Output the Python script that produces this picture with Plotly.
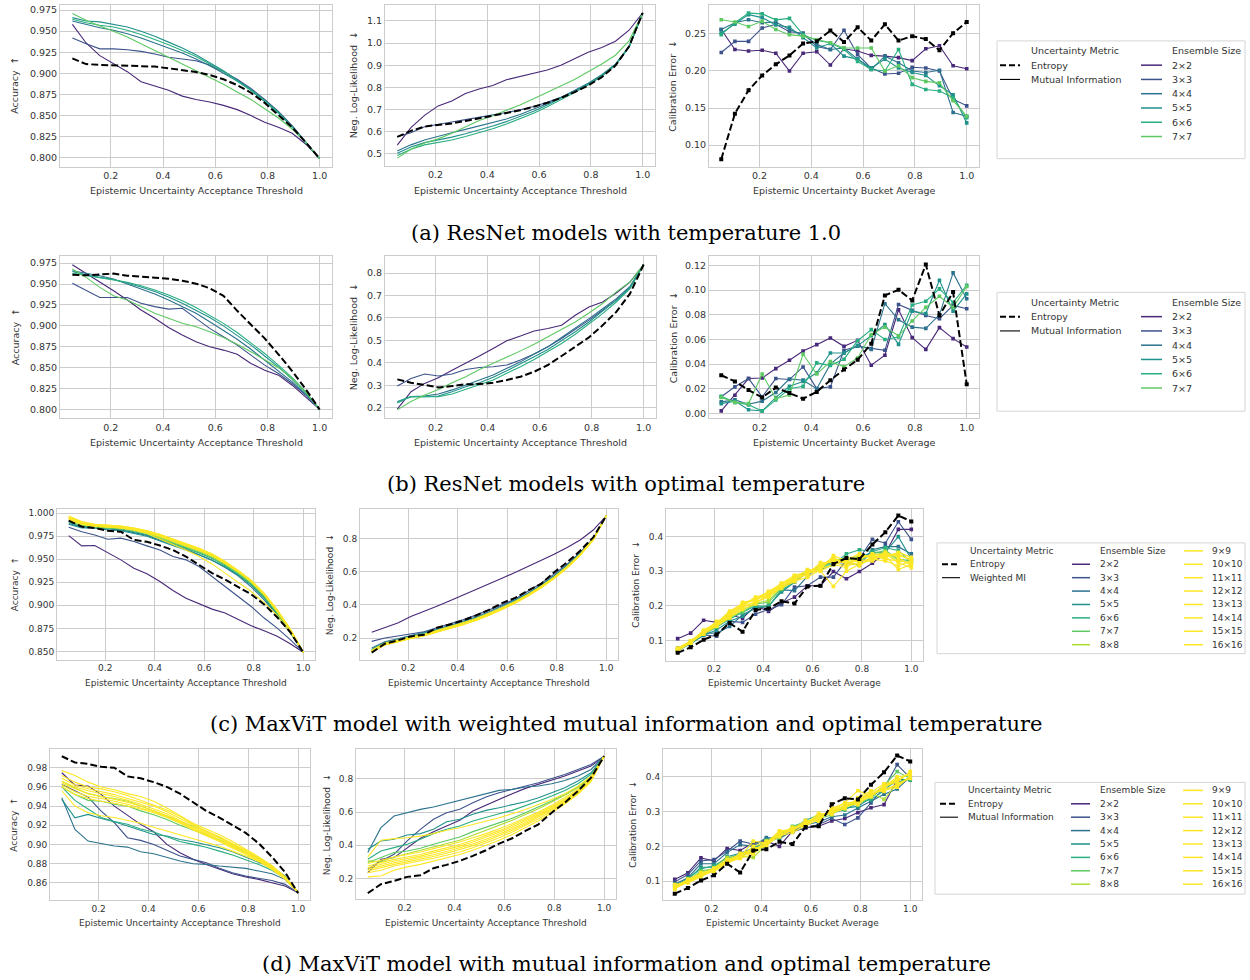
import plotly.graph_objects as go

W, H = 1250, 980

# ---------------- data ----------------
X = [0.0526, 0.1053, 0.1579, 0.2105, 0.2632, 0.3158, 0.3684, 0.4211, 0.4737, 0.5263,
     0.5789, 0.6316, 0.6842, 0.7368, 0.7895, 0.8421, 0.8947, 0.9474, 1.0]

SIZES_RESNET = ["2×2", "3×3", "4×4", "5×5", "6×6", "7×7"]
SIZES_MAXVIT = ["2×2", "3×3", "4×4", "5×5", "6×6", "7×7", "8×8", "9×9", "10×10",
                "11×11", "12×12", "13×13", "14×14", "15×15", "16×16"]
SIZE_COLORS = ["#482878", "#3b528b", "#2c728e", "#21918c", "#28ae80", "#5ec962", "#addc30",
               "#fde725", "#fde725", "#fde725", "#fde725", "#fde725", "#fde725", "#fde725", "#fde725"]

CAPTIONS = ["(a) ResNet models with temperature 1.0",
            "(b) ResNet models with optimal temperature",
            "(c) MaxViT model with weighted mutual information and optimal temperature",
            "(d) MaxViT model with mutual information and optimal temperature"]

# (a) ResNet, temperature 1.0
RN_T1_ACC_ENT = [0.9177, 0.911, 0.910, 0.9095, 0.909, 0.909, 0.908, 0.906, 0.904, 0.9015, 0.898, 0.893, 0.886, 0.877, 0.865, 0.851, 0.836, 0.818, 0.799]
RN_T1_ACC_MI = [
    [0.958, 0.936, 0.921, 0.911, 0.902, 0.890, 0.885, 0.880, 0.873, 0.869, 0.866, 0.862, 0.857, 0.850, 0.842, 0.836, 0.829, 0.816, 0.799],
    [0.942, 0.935, 0.929, 0.929, 0.928, 0.926, 0.923, 0.919, 0.917, 0.915, 0.910, 0.902, 0.893, 0.882, 0.869, 0.855, 0.838, 0.819, 0.799],
    [0.962, 0.958, 0.954, 0.951, 0.947, 0.942, 0.936, 0.930, 0.924, 0.917, 0.909, 0.900, 0.891, 0.880, 0.867, 0.853, 0.837, 0.818, 0.799],
    [0.966, 0.962, 0.961, 0.958, 0.955, 0.950, 0.944, 0.937, 0.930, 0.922, 0.913, 0.903, 0.892, 0.881, 0.868, 0.854, 0.837, 0.818, 0.799],
    [0.964, 0.960, 0.957, 0.955, 0.951, 0.946, 0.940, 0.934, 0.927, 0.920, 0.911, 0.902, 0.891, 0.880, 0.867, 0.853, 0.836, 0.818, 0.799],
    [0.971, 0.963, 0.956, 0.950, 0.943, 0.935, 0.927, 0.919, 0.911, 0.903, 0.895, 0.887, 0.878, 0.869, 0.858, 0.847, 0.834, 0.818, 0.799],
]
RN_T1_NLL_ENT = [0.576, 0.603, 0.623, 0.630, 0.637, 0.648, 0.660, 0.670, 0.682, 0.696, 0.712, 0.730, 0.752, 0.778, 0.808, 0.846, 0.898, 0.985, 1.136]
RN_T1_NLL_MI = [
    [0.539, 0.618, 0.673, 0.716, 0.738, 0.772, 0.792, 0.808, 0.834, 0.848, 0.862, 0.878, 0.900, 0.930, 0.958, 0.980, 1.008, 1.058, 1.136],
    [0.577, 0.595, 0.622, 0.634, 0.643, 0.654, 0.664, 0.674, 0.686, 0.698, 0.713, 0.732, 0.755, 0.782, 0.812, 0.850, 0.900, 0.982, 1.136],
    [0.512, 0.540, 0.562, 0.580, 0.595, 0.610, 0.625, 0.640, 0.657, 0.677, 0.700, 0.726, 0.754, 0.785, 0.818, 0.857, 0.905, 0.985, 1.136],
    [0.502, 0.530, 0.550, 0.562, 0.575, 0.590, 0.607, 0.625, 0.645, 0.667, 0.692, 0.720, 0.750, 0.782, 0.816, 0.855, 0.903, 0.983, 1.136],
    [0.492, 0.520, 0.540, 0.550, 0.562, 0.578, 0.595, 0.613, 0.634, 0.657, 0.683, 0.712, 0.743, 0.776, 0.811, 0.851, 0.900, 0.981, 1.136],
    [0.480, 0.520, 0.548, 0.567, 0.592, 0.622, 0.650, 0.672, 0.695, 0.720, 0.748, 0.777, 0.805, 0.835, 0.870, 0.905, 0.945, 1.010, 1.136],
]
RN_T1_CAL_ENT = [0.081, 0.1425, 0.174, 0.194, 0.209, 0.221, 0.237, 0.240, 0.2545, 0.239, 0.259, 0.241, 0.263, 0.241, 0.247, 0.243, 0.228, 0.251, 0.266]
RN_T1_CAL_MI = [
    [0.256, 0.229, 0.227, 0.228, 0.224, 0.200, 0.224, 0.226, 0.208, 0.230, 0.227, 0.221, 0.220, 0.218, 0.214, 0.230, 0.234, 0.207, 0.203],
    [0.225, 0.240, 0.240, 0.258, 0.263, 0.253, 0.251, 0.233, 0.229, 0.255, 0.222, 0.204, 0.196, 0.197, 0.205, 0.204, 0.200, 0.162, 0.153],
    [0.256, 0.265, 0.269, 0.265, 0.266, 0.256, 0.249, 0.236, 0.229, 0.231, 0.216, 0.202, 0.220, 0.211, 0.200, 0.198, 0.201, 0.144, 0.139],
    [0.251, 0.263, 0.276, 0.272, 0.262, 0.259, 0.245, 0.231, 0.237, 0.220, 0.216, 0.204, 0.216, 0.204, 0.198, 0.194, 0.180, 0.168, 0.130],
    [0.249, 0.265, 0.278, 0.277, 0.269, 0.271, 0.249, 0.241, 0.238, 0.229, 0.213, 0.202, 0.200, 0.229, 0.182, 0.175, 0.173, 0.164, 0.137],
    [0.269, 0.266, 0.260, 0.267, 0.256, 0.249, 0.247, 0.242, 0.238, 0.231, 0.231, 0.231, 0.200, 0.207, 0.191, 0.186, 0.184, 0.160, 0.139],
]

# (b) ResNet, optimal temperature
RN_OPT_ACC_ENT = [0.961, 0.9605, 0.9615, 0.9625, 0.960, 0.959, 0.958, 0.9565, 0.954, 0.9505, 0.945, 0.936, 0.918, 0.902, 0.885, 0.866, 0.846, 0.824, 0.800]
RN_OPT_ACC_MI = [
    [0.973, 0.963, 0.952, 0.942, 0.931, 0.919, 0.909, 0.898, 0.889, 0.881, 0.875, 0.871, 0.866, 0.855, 0.847, 0.841, 0.829, 0.815, 0.800],
    [0.951, 0.942, 0.934, 0.934, 0.934, 0.927, 0.923, 0.920, 0.921, 0.909, 0.897, 0.887, 0.877, 0.865, 0.853, 0.843, 0.831, 0.817, 0.800],
    [0.966, 0.963, 0.960, 0.956, 0.950, 0.944, 0.938, 0.931, 0.923, 0.915, 0.905, 0.895, 0.884, 0.872, 0.859, 0.847, 0.833, 0.818, 0.800],
    [0.965, 0.961, 0.958, 0.9555, 0.951, 0.9465, 0.941, 0.9345, 0.927, 0.919, 0.910, 0.900, 0.889, 0.877, 0.864, 0.851, 0.836, 0.8195, 0.800],
    [0.963, 0.960, 0.9575, 0.955, 0.952, 0.948, 0.943, 0.937, 0.930, 0.922, 0.913, 0.903, 0.892, 0.880, 0.867, 0.853, 0.838, 0.821, 0.800],
    [0.968, 0.958, 0.946, 0.936, 0.931, 0.923, 0.915, 0.909, 0.903, 0.899, 0.893, 0.886, 0.878, 0.869, 0.859, 0.850, 0.837, 0.820, 0.800],
]
RN_OPT_NLL_ENT = [0.326, 0.311, 0.301, 0.290, 0.296, 0.304, 0.305, 0.311, 0.323, 0.338, 0.360, 0.390, 0.430, 0.471, 0.513, 0.567, 0.627, 0.708, 0.838]
RN_OPT_NLL_MI = [
    [0.193, 0.271, 0.308, 0.333, 0.367, 0.397, 0.430, 0.464, 0.498, 0.519, 0.542, 0.553, 0.567, 0.612, 0.649, 0.671, 0.711, 0.760, 0.838],
    [0.296, 0.330, 0.350, 0.341, 0.350, 0.370, 0.379, 0.382, 0.390, 0.412, 0.439, 0.471, 0.508, 0.548, 0.590, 0.634, 0.679, 0.735, 0.838],
    [0.222, 0.249, 0.252, 0.261, 0.279, 0.301, 0.320, 0.345, 0.375, 0.404, 0.439, 0.471, 0.513, 0.553, 0.597, 0.641, 0.686, 0.741, 0.838],
    [0.227, 0.249, 0.249, 0.252, 0.271, 0.293, 0.311, 0.335, 0.364, 0.394, 0.427, 0.459, 0.498, 0.538, 0.582, 0.631, 0.679, 0.735, 0.838],
    [0.222, 0.249, 0.249, 0.249, 0.261, 0.281, 0.301, 0.323, 0.353, 0.382, 0.415, 0.449, 0.486, 0.527, 0.572, 0.619, 0.671, 0.730, 0.838],
    [0.190, 0.227, 0.256, 0.281, 0.311, 0.338, 0.370, 0.397, 0.427, 0.453, 0.483, 0.516, 0.548, 0.582, 0.622, 0.664, 0.716, 0.760, 0.838],
]
RN_OPT_CAL_ENT = [0.031, 0.026, 0.019, 0.013, 0.021, 0.0165, 0.012, 0.0175, 0.027, 0.0356, 0.0435, 0.0566, 0.0957, 0.1003, 0.0917, 0.1208, 0.0795, 0.0984, 0.0237]
RN_OPT_CAL_MI = [
    [0.0021, 0.0148, 0.0283, 0.0288, 0.0364, 0.0431, 0.0507, 0.0558, 0.0612, 0.0545, 0.0593, 0.0391, 0.0472, 0.0841, 0.0615, 0.0520, 0.0696, 0.0607, 0.0539],
    [0.0135, 0.0216, 0.0283, 0.0135, 0.0283, 0.0275, 0.0377, 0.0202, 0.0216, 0.0512, 0.0545, 0.0526, 0.0512, 0.0884, 0.0836, 0.0795, 0.0768, 0.0876, 0.0849],
    [0.0094, 0.011, 0.0075, 0.010, 0.017, 0.028, 0.027, 0.020, 0.040, 0.049, 0.055, 0.052, 0.089, 0.076, 0.070, 0.069, 0.080, 0.114, 0.093],
    [0.008, 0.010, 0.003, 0.002, 0.013, 0.022, 0.026, 0.033, 0.049, 0.049, 0.055, 0.063, 0.072, 0.056, 0.083, 0.081, 0.108, 0.083, 0.097],
    [0.014, 0.009, 0.007, 0.002, 0.011, 0.020, 0.022, 0.041, 0.039, 0.044, 0.059, 0.068, 0.060, 0.062, 0.088, 0.091, 0.101, 0.090, 0.104],
    [0.013, 0.009, 0.008, 0.032, 0.012, 0.015, 0.048, 0.032, 0.042, 0.038, 0.045, 0.064, 0.070, 0.063, 0.075, 0.086, 0.095, 0.086, 0.103],
]

# MaxViT entropy baselines (shared by (c) and (d))
MV_ACC_ENT = [0.992, 0.9855, 0.984, 0.981, 0.980, 0.971, 0.969, 0.965, 0.960, 0.953, 0.944, 0.935, 0.928, 0.920, 0.912, 0.901, 0.887, 0.871, 0.849]
MV_NLL_ENT = [0.112, 0.166, 0.186, 0.210, 0.220, 0.262, 0.282, 0.306, 0.336, 0.370, 0.410, 0.442, 0.486, 0.526, 0.596, 0.656, 0.726, 0.806, 0.936]
MV_CAL_ENT = [0.064, 0.080, 0.102, 0.117, 0.150, 0.125, 0.188, 0.192, 0.213, 0.207, 0.256, 0.258, 0.321, 0.338, 0.335, 0.377, 0.413, 0.461, 0.444]

# (c) MaxViT, weighted MI
MV_WMI_ACC = [
    [0.9758, 0.9646, 0.965, 0.9574, 0.9494, 0.9404, 0.9342, 0.9259, 0.9162, 0.9078, 0.9017, 0.8959, 0.8916, 0.8843, 0.8778, 0.8724, 0.8663, 0.8583, 0.849],
    [0.9848, 0.980, 0.9765, 0.9718, 0.973, 0.9693, 0.9646, 0.9602, 0.953, 0.9494, 0.9422, 0.9313, 0.9212, 0.9096, 0.8988, 0.8862, 0.8753, 0.8627, 0.849],
    [0.989, 0.985, 0.984, 0.983, 0.982, 0.979, 0.976, 0.971, 0.966, 0.961, 0.955, 0.949, 0.941, 0.932, 0.920, 0.906, 0.889, 0.870, 0.849],
    [0.988, 0.984, 0.984, 0.982, 0.981, 0.978, 0.975, 0.970, 0.965, 0.960, 0.955, 0.949, 0.942, 0.933, 0.922, 0.908, 0.890, 0.871, 0.849],
    [0.990, 0.986, 0.985, 0.984, 0.983, 0.980, 0.977, 0.972, 0.967, 0.962, 0.957, 0.951, 0.943, 0.934, 0.923, 0.909, 0.891, 0.871, 0.849],
    [0.991, 0.987, 0.985, 0.984, 0.983, 0.981, 0.978, 0.973, 0.968, 0.963, 0.958, 0.952, 0.944, 0.935, 0.924, 0.910, 0.892, 0.872, 0.849],
    [0.992, 0.988, 0.986, 0.985, 0.984, 0.982, 0.979, 0.974, 0.969, 0.964, 0.959, 0.953, 0.945, 0.936, 0.925, 0.911, 0.893, 0.873, 0.849],
    [0.993, 0.988, 0.986, 0.985, 0.984, 0.982, 0.979, 0.975, 0.970, 0.965, 0.960, 0.954, 0.946, 0.937, 0.926, 0.912, 0.894, 0.874, 0.849],
    [0.994, 0.989, 0.987, 0.986, 0.985, 0.983, 0.980, 0.975, 0.970, 0.965, 0.960, 0.954, 0.946, 0.937, 0.926, 0.912, 0.894, 0.873, 0.849],
    [0.994, 0.988, 0.986, 0.985, 0.984, 0.982, 0.978, 0.972, 0.966, 0.960, 0.953, 0.945, 0.935, 0.925, 0.915, 0.903, 0.889, 0.871, 0.849],
    [0.995, 0.990, 0.987, 0.986, 0.985, 0.983, 0.980, 0.976, 0.971, 0.966, 0.961, 0.955, 0.947, 0.938, 0.927, 0.913, 0.895, 0.874, 0.849],
    [0.996, 0.990, 0.988, 0.987, 0.986, 0.984, 0.981, 0.977, 0.972, 0.967, 0.962, 0.955, 0.947, 0.938, 0.927, 0.913, 0.895, 0.874, 0.849],
    [0.995, 0.989, 0.987, 0.986, 0.985, 0.983, 0.980, 0.976, 0.971, 0.966, 0.961, 0.955, 0.947, 0.937, 0.926, 0.912, 0.894, 0.873, 0.849],
    [0.996, 0.990, 0.987, 0.986, 0.985, 0.983, 0.981, 0.977, 0.972, 0.967, 0.961, 0.955, 0.946, 0.937, 0.926, 0.912, 0.894, 0.874, 0.849],
    [0.997, 0.991, 0.988, 0.987, 0.986, 0.984, 0.981, 0.977, 0.972, 0.967, 0.962, 0.956, 0.948, 0.938, 0.927, 0.913, 0.895, 0.874, 0.849],
]
MV_WMI_NLL = [
    [0.235, 0.262, 0.290, 0.330, 0.360, 0.392, 0.425, 0.458, 0.490, 0.525, 0.560, 0.595, 0.630, 0.667, 0.705, 0.745, 0.790, 0.850, 0.936],
    [0.180, 0.200, 0.212, 0.225, 0.238, 0.262, 0.285, 0.310, 0.338, 0.368, 0.400, 0.435, 0.480, 0.530, 0.585, 0.645, 0.715, 0.800, 0.936],
    [0.140, 0.178, 0.196, 0.215, 0.232, 0.255, 0.277, 0.300, 0.327, 0.358, 0.392, 0.430, 0.472, 0.520, 0.575, 0.638, 0.710, 0.798, 0.936],
    [0.132, 0.172, 0.190, 0.210, 0.226, 0.249, 0.270, 0.293, 0.320, 0.351, 0.385, 0.424, 0.467, 0.515, 0.571, 0.634, 0.707, 0.796, 0.936],
    [0.128, 0.170, 0.188, 0.208, 0.223, 0.246, 0.267, 0.290, 0.317, 0.348, 0.382, 0.421, 0.464, 0.513, 0.569, 0.633, 0.706, 0.795, 0.936],
    [0.125, 0.168, 0.186, 0.206, 0.221, 0.244, 0.265, 0.288, 0.315, 0.346, 0.380, 0.419, 0.462, 0.511, 0.567, 0.631, 0.705, 0.795, 0.936],
    [0.124, 0.166, 0.185, 0.205, 0.220, 0.243, 0.264, 0.287, 0.314, 0.345, 0.379, 0.418, 0.461, 0.510, 0.566, 0.630, 0.704, 0.794, 0.936],
    [0.122, 0.165, 0.184, 0.204, 0.219, 0.242, 0.263, 0.286, 0.313, 0.344, 0.378, 0.417, 0.460, 0.509, 0.565, 0.629, 0.703, 0.794, 0.936],
    [0.121, 0.163, 0.183, 0.203, 0.218, 0.241, 0.262, 0.285, 0.312, 0.343, 0.377, 0.416, 0.459, 0.508, 0.564, 0.628, 0.703, 0.793, 0.936],
    [0.126, 0.168, 0.187, 0.206, 0.222, 0.246, 0.268, 0.290, 0.318, 0.349, 0.382, 0.420, 0.462, 0.510, 0.565, 0.628, 0.702, 0.793, 0.936],
    [0.119, 0.162, 0.181, 0.201, 0.216, 0.239, 0.260, 0.283, 0.310, 0.341, 0.375, 0.414, 0.457, 0.506, 0.562, 0.626, 0.701, 0.792, 0.936],
    [0.118, 0.160, 0.180, 0.199, 0.215, 0.237, 0.259, 0.281, 0.309, 0.340, 0.374, 0.412, 0.456, 0.505, 0.561, 0.625, 0.700, 0.792, 0.936],
    [0.116, 0.160, 0.179, 0.199, 0.213, 0.237, 0.257, 0.281, 0.307, 0.339, 0.372, 0.412, 0.454, 0.504, 0.560, 0.624, 0.700, 0.791, 0.936],
    [0.117, 0.158, 0.178, 0.198, 0.214, 0.236, 0.258, 0.280, 0.308, 0.338, 0.373, 0.411, 0.455, 0.503, 0.559, 0.623, 0.699, 0.791, 0.936],
    [0.115, 0.158, 0.177, 0.197, 0.212, 0.235, 0.256, 0.279, 0.306, 0.337, 0.371, 0.410, 0.453, 0.502, 0.558, 0.622, 0.698, 0.790, 0.936],
]
MV_WMI_CAL = [
    [0.105, 0.121, 0.158, 0.152, 0.174, 0.164, 0.200, 0.184, 0.208, 0.225, 0.258, 0.258, 0.299, 0.278, 0.299, 0.323, 0.352, 0.421, 0.421],
    [0.078, 0.094, 0.116, 0.112, 0.155, 0.152, 0.176, 0.1885, 0.203, 0.254, 0.258, 0.283, 0.283, 0.333, 0.3375, 0.392, 0.381, 0.443, 0.392],
    [0.073, 0.097, 0.121, 0.121, 0.140, 0.174, 0.193, 0.198, 0.246, 0.244, 0.285, 0.318, 0.326, 0.323, 0.318, 0.362, 0.371, 0.371, 0.350],
    [0.071, 0.090, 0.115, 0.130, 0.155, 0.170, 0.195, 0.200, 0.240, 0.268, 0.300, 0.305, 0.318, 0.335, 0.340, 0.355, 0.355, 0.400, 0.335],
    [0.070, 0.092, 0.118, 0.138, 0.162, 0.180, 0.200, 0.198, 0.245, 0.270, 0.295, 0.315, 0.320, 0.350, 0.362, 0.357, 0.368, 0.360, 0.325],
    [0.068, 0.095, 0.122, 0.140, 0.168, 0.182, 0.205, 0.210, 0.250, 0.275, 0.300, 0.305, 0.330, 0.340, 0.330, 0.350, 0.360, 0.335, 0.330],
    [0.072, 0.098, 0.125, 0.145, 0.165, 0.188, 0.208, 0.215, 0.255, 0.280, 0.298, 0.312, 0.335, 0.330, 0.345, 0.345, 0.355, 0.330, 0.325],
    [0.075, 0.095, 0.130, 0.150, 0.185, 0.205, 0.220, 0.230, 0.262, 0.285, 0.300, 0.310, 0.335, 0.325, 0.340, 0.345, 0.350, 0.345, 0.335],
    [0.078, 0.098, 0.125, 0.155, 0.170, 0.210, 0.215, 0.240, 0.265, 0.280, 0.290, 0.315, 0.340, 0.320, 0.335, 0.350, 0.345, 0.305, 0.320],
    [0.072, 0.092, 0.120, 0.140, 0.165, 0.190, 0.205, 0.235, 0.255, 0.275, 0.305, 0.300, 0.256, 0.300, 0.320, 0.335, 0.330, 0.315, 0.330],
    [0.070, 0.094, 0.125, 0.148, 0.178, 0.200, 0.222, 0.232, 0.250, 0.270, 0.295, 0.300, 0.320, 0.310, 0.345, 0.340, 0.340, 0.355, 0.340],
    [0.076, 0.097, 0.118, 0.145, 0.168, 0.195, 0.210, 0.225, 0.255, 0.285, 0.290, 0.325, 0.325, 0.315, 0.325, 0.330, 0.350, 0.325, 0.310],
    [0.073, 0.096, 0.122, 0.152, 0.180, 0.208, 0.218, 0.242, 0.260, 0.272, 0.282, 0.305, 0.345, 0.330, 0.315, 0.345, 0.335, 0.330, 0.325],
    [0.074, 0.093, 0.128, 0.142, 0.172, 0.198, 0.212, 0.228, 0.265, 0.288, 0.298, 0.318, 0.330, 0.325, 0.330, 0.335, 0.355, 0.340, 0.315],
    [0.071, 0.099, 0.123, 0.146, 0.175, 0.203, 0.225, 0.238, 0.258, 0.278, 0.293, 0.308, 0.318, 0.335, 0.350, 0.338, 0.345, 0.350, 0.330],
]

# (d) MaxViT, mutual information
MV_MI_ACC = [
    [0.9748, 0.9619, 0.9609, 0.9522, 0.940, 0.9306, 0.9209, 0.9132, 0.900, 0.8913, 0.8844, 0.8791, 0.8739, 0.8694, 0.8659, 0.8635, 0.860, 0.8565, 0.8496],
    [0.9626, 0.9557, 0.9494, 0.9348, 0.9226, 0.907, 0.9042, 0.900, 0.8937, 0.8878, 0.8844, 0.8809, 0.875, 0.8704, 0.8669, 0.8645, 0.8624, 0.8583, 0.8496],
    [0.9487, 0.9157, 0.9035, 0.9007, 0.8983, 0.8972, 0.8924, 0.8903, 0.8861, 0.8826, 0.8798, 0.8791, 0.8774, 0.8764, 0.875, 0.8722, 0.8694, 0.8635, 0.8496],
    [0.947, 0.9278, 0.9313, 0.9271, 0.9237, 0.9191, 0.9146, 0.9104, 0.9087, 0.9052, 0.9028, 0.900, 0.8965, 0.8924, 0.8868, 0.8819, 0.8757, 0.867, 0.8496],
    [0.960, 0.946, 0.937, 0.928, 0.924, 0.921, 0.916, 0.913, 0.908, 0.903, 0.900, 0.897, 0.893, 0.889, 0.884, 0.879, 0.873, 0.865, 0.8496],
    [0.960, 0.952, 0.946, 0.945, 0.942, 0.940, 0.935, 0.931, 0.926, 0.920, 0.915, 0.910, 0.905, 0.898, 0.892, 0.885, 0.877, 0.866, 0.8496],
    [0.966, 0.959, 0.953, 0.950, 0.948, 0.945, 0.940, 0.935, 0.930, 0.924, 0.919, 0.914, 0.907, 0.900, 0.893, 0.886, 0.877, 0.866, 0.8496],
    [0.977, 0.972, 0.965, 0.960, 0.957, 0.953, 0.950, 0.945, 0.938, 0.930, 0.922, 0.916, 0.910, 0.903, 0.895, 0.887, 0.878, 0.866, 0.8496],
    [0.972, 0.965, 0.960, 0.958, 0.955, 0.951, 0.946, 0.941, 0.936, 0.929, 0.921, 0.914, 0.908, 0.901, 0.894, 0.886, 0.877, 0.866, 0.8496],
    [0.969, 0.962, 0.958, 0.955, 0.952, 0.948, 0.944, 0.940, 0.934, 0.927, 0.920, 0.913, 0.907, 0.900, 0.893, 0.885, 0.876, 0.865, 0.8496],
    [0.966, 0.960, 0.956, 0.953, 0.950, 0.946, 0.942, 0.937, 0.932, 0.925, 0.918, 0.912, 0.905, 0.899, 0.892, 0.884, 0.876, 0.865, 0.8496],
    [0.964, 0.958, 0.953, 0.950, 0.947, 0.944, 0.940, 0.935, 0.930, 0.924, 0.917, 0.911, 0.904, 0.898, 0.891, 0.884, 0.875, 0.865, 0.8496],
    [0.962, 0.955, 0.950, 0.948, 0.945, 0.942, 0.938, 0.934, 0.929, 0.923, 0.916, 0.910, 0.904, 0.897, 0.890, 0.883, 0.875, 0.864, 0.8496],
    [0.960, 0.952, 0.948, 0.945, 0.943, 0.940, 0.937, 0.933, 0.928, 0.922, 0.915, 0.909, 0.903, 0.896, 0.890, 0.883, 0.874, 0.864, 0.8496],
    [0.956, 0.940, 0.933, 0.930, 0.928, 0.925, 0.922, 0.918, 0.914, 0.910, 0.906, 0.902, 0.898, 0.893, 0.888, 0.882, 0.874, 0.864, 0.8496],
]
MV_MI_NLL = [
    [0.236, 0.316, 0.326, 0.386, 0.442, 0.482, 0.516, 0.550, 0.606, 0.642, 0.676, 0.710, 0.742, 0.766, 0.790, 0.816, 0.846, 0.876, 0.936],
    [0.256, 0.306, 0.346, 0.426, 0.496, 0.556, 0.596, 0.616, 0.656, 0.690, 0.716, 0.736, 0.756, 0.776, 0.802, 0.826, 0.856, 0.886, 0.936],
    [0.356, 0.506, 0.576, 0.596, 0.616, 0.630, 0.650, 0.666, 0.686, 0.710, 0.730, 0.736, 0.750, 0.756, 0.770, 0.790, 0.816, 0.856, 0.936],
    [0.376, 0.426, 0.436, 0.462, 0.470, 0.496, 0.542, 0.556, 0.586, 0.610, 0.626, 0.642, 0.662, 0.686, 0.716, 0.746, 0.786, 0.836, 0.936],
    [0.316, 0.366, 0.386, 0.406, 0.436, 0.470, 0.496, 0.516, 0.546, 0.570, 0.590, 0.610, 0.636, 0.666, 0.696, 0.730, 0.770, 0.826, 0.936],
    [0.296, 0.326, 0.356, 0.366, 0.382, 0.406, 0.426, 0.450, 0.482, 0.510, 0.536, 0.562, 0.596, 0.630, 0.666, 0.706, 0.750, 0.810, 0.936],
    [0.306, 0.300, 0.330, 0.350, 0.370, 0.390, 0.410, 0.430, 0.460, 0.490, 0.520, 0.550, 0.585, 0.620, 0.660, 0.700, 0.745, 0.805, 0.936],
    [0.330, 0.430, 0.440, 0.445, 0.455, 0.470, 0.490, 0.505, 0.525, 0.545, 0.565, 0.590, 0.615, 0.645, 0.675, 0.710, 0.755, 0.815, 0.936],
    [0.290, 0.310, 0.330, 0.345, 0.360, 0.380, 0.400, 0.420, 0.445, 0.470, 0.500, 0.530, 0.565, 0.600, 0.640, 0.685, 0.735, 0.800, 0.936],
    [0.275, 0.295, 0.315, 0.330, 0.345, 0.365, 0.385, 0.405, 0.430, 0.458, 0.488, 0.520, 0.555, 0.592, 0.633, 0.678, 0.730, 0.797, 0.936],
    [0.265, 0.285, 0.305, 0.320, 0.335, 0.355, 0.375, 0.395, 0.420, 0.448, 0.478, 0.510, 0.546, 0.585, 0.627, 0.673, 0.726, 0.795, 0.936],
    [0.255, 0.275, 0.295, 0.310, 0.325, 0.343, 0.362, 0.383, 0.408, 0.436, 0.466, 0.500, 0.537, 0.577, 0.620, 0.668, 0.722, 0.792, 0.936],
    [0.245, 0.265, 0.285, 0.300, 0.315, 0.333, 0.352, 0.373, 0.398, 0.426, 0.457, 0.491, 0.528, 0.569, 0.613, 0.662, 0.718, 0.790, 0.936],
    [0.235, 0.250, 0.275, 0.290, 0.305, 0.322, 0.340, 0.360, 0.385, 0.413, 0.445, 0.480, 0.518, 0.560, 0.606, 0.656, 0.713, 0.787, 0.936],
    [0.210, 0.215, 0.250, 0.270, 0.285, 0.305, 0.325, 0.345, 0.370, 0.398, 0.430, 0.465, 0.505, 0.548, 0.596, 0.648, 0.707, 0.784, 0.936],
]
MV_MI_CAL = [
    [0.105, 0.124, 0.167, 0.158, 0.194, 0.188, 0.210, 0.215, 0.200, 0.244, 0.253, 0.258, 0.273, 0.280, 0.297, 0.311, 0.320, 0.392, 0.392],
    [0.098, 0.119, 0.158, 0.162, 0.186, 0.215, 0.207, 0.220, 0.227, 0.242, 0.253, 0.263, 0.280, 0.263, 0.282, 0.325, 0.368, 0.435, 0.397],
    [0.091, 0.110, 0.150, 0.150, 0.182, 0.205, 0.200, 0.225, 0.222, 0.245, 0.262, 0.270, 0.285, 0.290, 0.310, 0.330, 0.350, 0.365, 0.400],
    [0.088, 0.105, 0.140, 0.140, 0.170, 0.180, 0.195, 0.215, 0.230, 0.255, 0.265, 0.285, 0.300, 0.310, 0.315, 0.340, 0.370, 0.385, 0.395],
    [0.085, 0.108, 0.135, 0.145, 0.165, 0.178, 0.190, 0.218, 0.235, 0.250, 0.275, 0.290, 0.295, 0.305, 0.325, 0.335, 0.360, 0.395, 0.390],
    [0.090, 0.100, 0.130, 0.135, 0.160, 0.175, 0.185, 0.210, 0.225, 0.258, 0.270, 0.280, 0.290, 0.320, 0.320, 0.345, 0.375, 0.415, 0.395],
    [0.082, 0.102, 0.125, 0.138, 0.168, 0.172, 0.168, 0.205, 0.238, 0.252, 0.268, 0.282, 0.298, 0.310, 0.330, 0.355, 0.335, 0.380, 0.398],
    [0.080, 0.098, 0.115, 0.130, 0.158, 0.170, 0.215, 0.210, 0.245, 0.248, 0.262, 0.290, 0.300, 0.325, 0.360, 0.345, 0.370, 0.400, 0.405],
    [0.085, 0.104, 0.120, 0.128, 0.155, 0.165, 0.200, 0.212, 0.235, 0.245, 0.270, 0.280, 0.305, 0.315, 0.335, 0.355, 0.380, 0.390, 0.410],
    [0.078, 0.100, 0.118, 0.135, 0.150, 0.168, 0.190, 0.205, 0.228, 0.250, 0.265, 0.295, 0.292, 0.318, 0.330, 0.350, 0.365, 0.375, 0.400],
    [0.090, 0.095, 0.112, 0.132, 0.162, 0.172, 0.182, 0.215, 0.230, 0.240, 0.258, 0.278, 0.302, 0.312, 0.325, 0.345, 0.372, 0.385, 0.415],
    [0.076, 0.106, 0.122, 0.128, 0.152, 0.176, 0.195, 0.200, 0.240, 0.252, 0.262, 0.285, 0.295, 0.308, 0.340, 0.360, 0.358, 0.380, 0.395],
    [0.082, 0.096, 0.116, 0.138, 0.160, 0.165, 0.178, 0.208, 0.232, 0.248, 0.275, 0.272, 0.310, 0.322, 0.320, 0.348, 0.368, 0.392, 0.408],
    [0.087, 0.102, 0.125, 0.130, 0.155, 0.180, 0.188, 0.212, 0.236, 0.255, 0.260, 0.288, 0.298, 0.315, 0.332, 0.352, 0.362, 0.370, 0.402],
    [0.079, 0.099, 0.119, 0.134, 0.158, 0.170, 0.186, 0.203, 0.242, 0.246, 0.268, 0.282, 0.306, 0.325, 0.328, 0.342, 0.376, 0.388, 0.412],
]

# ---------------- layout / style ----------------
GRID = "#cccccc"
TXT = "#333333"
FONT = "DejaVu Sans"
XLAB_T = "Epistemic Uncertainty Acceptance Threshold"
XLAB_B = "Epistemic Uncertainty Bucket Average"
UP, DOWN = "\u00a0\u00a0↑", "\u00a0\u00a0↓"

# boxes are in window pixels (left, top, right, bottom)
PANELS = [
    # row a
    dict(box=(60, 4, 332, 166), yr=(0.7894, 0.981), dt=0.025, fmt=".3f", yl="Accuracy" + UP, xl=XLAB_T, ylx=15, xly=190,
         mi=RN_T1_ACC_MI, ent=RN_T1_ACC_ENT, n=6, mk=False, fs=9.5),
    dict(box=(385, 4, 655, 165), yr=(0.446, 1.172), dt=0.1, fmt=".1f", yl="Neg. Log-Likelihood" + DOWN, xl=XLAB_T, ylx=353, xly=190,
         mi=RN_T1_NLL_MI, ent=RN_T1_NLL_ENT, n=6, mk=False, fs=9.5),
    dict(box=(709, 4, 979, 166), yr=(0.071, 0.289), dt=0.05, fmt=".2f", yl="Calibration Error" + DOWN, xl=XLAB_B, ylx=673, xly=190,
         mi=RN_T1_CAL_MI, ent=RN_T1_CAL_ENT, n=6, mk=True, fs=9.5),
    # row b
    dict(box=(60, 256, 332, 418), yr=(0.7896, 0.983), dt=0.025, fmt=".3f", yl="Accuracy" + UP, xl=XLAB_T, ylx=15, xly=442,
         mi=RN_OPT_ACC_MI, ent=RN_OPT_ACC_ENT, n=6, mk=False, fs=9.5),
    dict(box=(385, 256, 656, 418), yr=(0.153, 0.874), dt=0.1, fmt=".1f", yl="Neg. Log-Likelihood" + DOWN, xl=XLAB_T, ylx=353, xly=442,
         mi=RN_OPT_NLL_MI, ent=RN_OPT_NLL_ENT, n=6, mk=False, fs=9.5),
    dict(box=(709, 256, 979, 418), yr=(-0.0038, 0.1273), dt=0.02, fmt=".2f", yl="Calibration Error" + DOWN, xl=XLAB_B, ylx=673, xly=442,
         mi=RN_OPT_CAL_MI, ent=RN_OPT_CAL_ENT, n=6, mk=True, fs=9.5),
    # row c
    dict(box=(57, 509, 315, 660), yr=(0.841, 1.0047), dt=0.025, fmt=".3f", yl="Accuracy" + UP, xl=XLAB_T, ylx=15, xly=683,
         mi=MV_WMI_ACC, ent=MV_ACC_ENT, n=15, mk=False, fs=9),
    dict(box=(360, 509, 618, 660), yr=(0.07, 0.977), dt=0.2, fmt=".1f", yl="Neg. Log-Likelihood" + DOWN, xl=XLAB_T, ylx=330, xly=683,
         mi=MV_WMI_NLL, ent=MV_NLL_ENT, n=15, mk=False, fs=9),
    dict(box=(666, 509, 923, 661), yr=(0.0414, 0.48), dt=0.1, fmt=".1f", yl="Calibration Error" + DOWN, xl=XLAB_B, ylx=636, xly=683,
         mi=MV_WMI_CAL, ent=MV_CAL_ENT, n=15, mk=True, fs=9),
    # row d
    dict(box=(50, 750, 310, 901), yr=(0.8418, 0.9991), dt=0.02, fmt=".2f", yl="Accuracy" + UP, xl=XLAB_T, ylx=14, xly=924,
         mi=MV_MI_ACC, ent=MV_ACC_ENT, n=15, mk=False, fs=9),
    dict(box=(356, 750, 616, 900), yr=(0.076, 0.976), dt=0.2, fmt=".1f", yl="Neg. Log-Likelihood" + DOWN, xl=XLAB_T, ylx=327, xly=924,
         mi=MV_MI_NLL, ent=MV_NLL_ENT, n=15, mk=False, fs=9),
    dict(box=(663, 750, 922, 901), yr=(0.0454, 0.4785), dt=0.1, fmt=".1f", yl="Calibration Error" + DOWN, xl=XLAB_B, ylx=633, xly=924,
         mi=MV_MI_CAL, ent=MV_CAL_ENT, n=15, mk=True, fs=9),
]

LEGENDS = [
    dict(box=(997, 40, 1245, 158), y0=50, dy=14.3, metric="Mutual Information", mcol=(1000, 1020, 1029),
         ecol=(1141, 1162, 1170), n1=6, xcol=None, fs=9.5),
    dict(box=(997, 292, 1245, 411), y0=302, dy=14.3, metric="Mutual Information", mcol=(1000, 1020, 1029),
         ecol=(1141, 1162, 1170), n1=6, xcol=None, fs=9.5),
    dict(box=(937, 543, 1245, 654), y0=551, dy=13.43, metric="Weighted MI", mcol=(942, 960, 968),
         ecol=(1072, 1090, 1098), n1=7, xcol=(1184, 1203, 1210), fs=9),
    dict(box=(935, 783, 1245, 895), y0=791, dy=13.43, metric="Mutual Information", mcol=(940, 958, 966),
         ecol=(1071, 1090, 1098), n1=7, xcol=(1183, 1203, 1210), fs=9),
]

CAPTION_Y = [232, 484, 724, 965]


def fx(v):
    return v / W


def fy(v):
    return 1 - v / H


fig = go.Figure()
layout = dict(width=W, height=H, margin=dict(l=0, r=0, t=0, b=0), paper_bgcolor="white",
              plot_bgcolor="white", showlegend=False, font=dict(family=FONT, color=TXT))
shapes, annotations = [], []

for i, p in enumerate(PANELS):
    s = "" if i == 0 else str(i + 1)
    xr, yr_ = "x" + s, "y" + s
    x0, y0, x1, y1 = p["box"]
    axis_common = dict(showgrid=True, gridcolor=GRID, gridwidth=1, zeroline=False, showline=True, mirror=True,
                       linecolor=GRID, linewidth=1, ticks="", ticklabeloverflow="allow",
                       tickfont=dict(family=FONT, size=p["fs"], color=TXT))
    layout["xaxis" + s] = dict(domain=[fx(x0), fx(x1)], range=[0.0053, 1.0474], anchor=yr_, tick0=0, dtick=0.2,
                               tickformat=".1f", **axis_common)
    layout["yaxis" + s] = dict(domain=[fy(y1), fy(y0)], range=list(p["yr"]), anchor=xr, tick0=0, dtick=p["dt"],
                               tickformat=p["fmt"], **axis_common)
    sizes = SIZES_MAXVIT if p["n"] == 15 else SIZES_RESNET
    for j, name in enumerate(sizes):
        fig.add_trace(go.Scatter(
            x=X, y=p["mi"][j], xaxis=xr, yaxis=yr_, name=name,
            mode="lines+markers" if p["mk"] else "lines",
            line=dict(color=SIZE_COLORS[j], width=1.1),
            marker=dict(symbol="square", size=3.6, color=SIZE_COLORS[j], line=dict(width=0))))
    fig.add_trace(go.Scatter(
        x=X, y=p["ent"], xaxis=xr, yaxis=yr_, name="Entropy",
        mode="lines+markers" if p["mk"] else "lines",
        line=dict(color="black", width=2, dash="7px,3px"),
        marker=dict(symbol="square", size=4, color="black", line=dict(width=0))))
    annotations.append(dict(text=p["xl"], x=fx((x0 + x1) / 2), y=fy(p["xly"]), xref="paper", yref="paper",
                            showarrow=False, xanchor="center", yanchor="middle",
                            font=dict(family=FONT, size=p["fs"], color=TXT)))
    annotations.append(dict(text=p["yl"], x=fx(p["ylx"]), y=fy((y0 + y1) / 2), xref="paper", yref="paper",
                            showarrow=False, xanchor="center", yanchor="middle", textangle=-90,
                            font=dict(family=FONT, size=p["fs"], color=TXT)))


def leg_text(txt, x, y, fs):
    annotations.append(dict(text=txt, x=fx(x), y=fy(y), xref="paper", yref="paper", showarrow=False,
                            xanchor="left", yanchor="middle", font=dict(family=FONT, size=fs, color=TXT)))


def leg_line(xa, xb, y, color, width, dash="solid"):
    shapes.append(dict(type="line", xref="paper", yref="paper", x0=fx(xa), x1=fx(xb), y0=fy(y), y1=fy(y),
                       line=dict(color=color, width=width, dash=dash)))


for lg in LEGENDS:
    bx0, by0, bx1, by1 = lg["box"]
    shapes.append(dict(type="rect", xref="paper", yref="paper", x0=fx(bx0), x1=fx(bx1), y0=fy(by1), y1=fy(by0),
                       line=dict(color="#d5d5d5", width=1), fillcolor="rgba(255,255,255,0.8)", layer="above"))
    fs, y0, dy = lg["fs"], lg["y0"], lg["dy"]
    h0, h1, t = lg["mcol"]
    leg_text("Uncertainty Metric", t, y0, fs)
    leg_text("Entropy", t, y0 + dy, fs)
    leg_line(h0, h1, y0 + dy, "black", 2, "6px,3px")
    leg_text(lg["metric"], t, y0 + 2 * dy, fs)
    leg_line(h0, h1, y0 + 2 * dy, "black", 1.1)
    h0, h1, t = lg["ecol"]
    leg_text("Ensemble Size", t, y0, fs)
    for j in range(lg["n1"]):
        leg_text(SIZES_MAXVIT[j], t, y0 + (j + 1) * dy, fs)
        leg_line(h0, h1, y0 + (j + 1) * dy, SIZE_COLORS[j], 1.5)
    if lg["xcol"]:
        h0, h1, t = lg["xcol"]
        for k, j in enumerate(range(lg["n1"], 15)):
            leg_text(SIZES_MAXVIT[j], t, y0 + k * dy, fs)
            leg_line(h0, h1, y0 + k * dy, SIZE_COLORS[j], 1.5)

for cap, cy in zip(CAPTIONS, CAPTION_Y):
    annotations.append(dict(text=cap, x=fx(626), y=fy(cy), xref="paper", yref="paper", showarrow=False,
                            xanchor="center", yanchor="middle",
                            font=dict(family="DejaVu Serif", size=21, color="black")))

layout["shapes"] = shapes
layout["annotations"] = annotations
fig.update_layout(**layout)
# remove the default 8px page margin so the 1250x980 figure fills the window exactly; hide the modebar
fig.write_html("out.html", config={"displayModeBar": False},
               post_script="document.body.style.margin='0';")
